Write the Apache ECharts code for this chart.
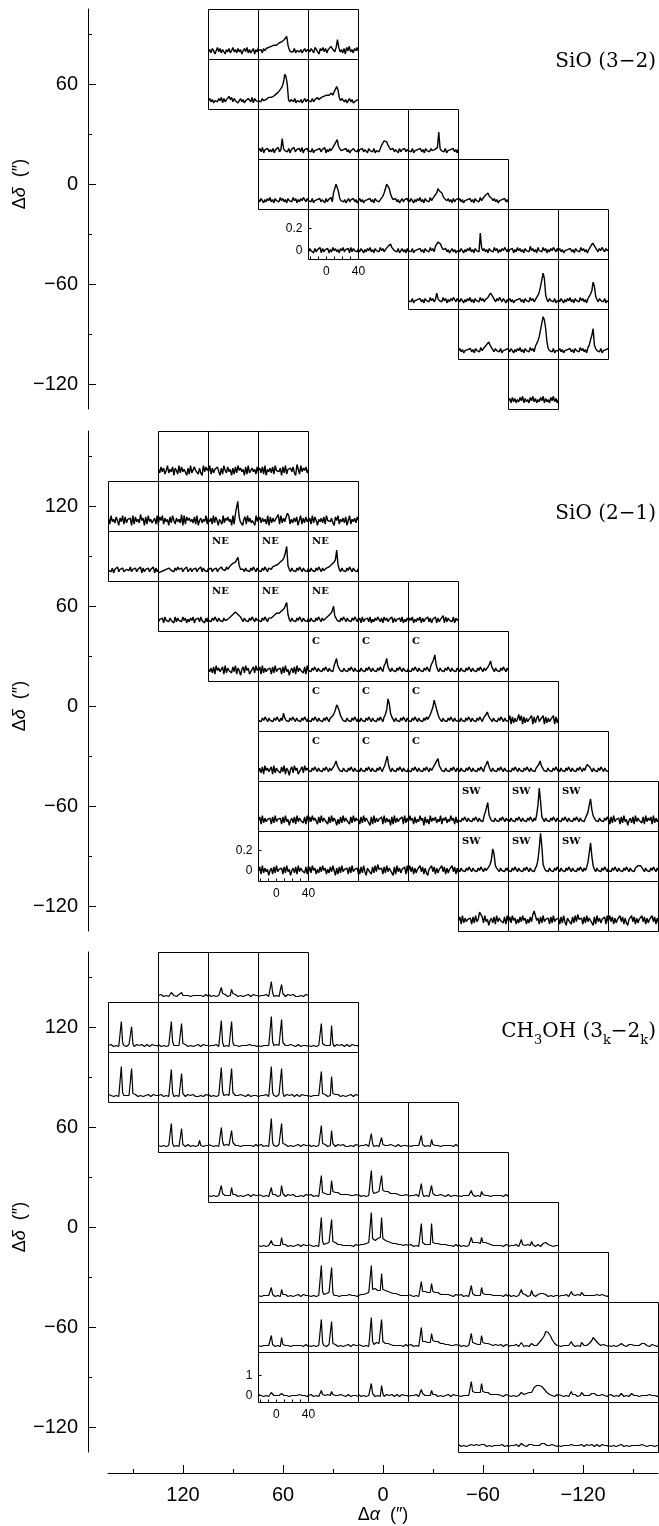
<!DOCTYPE html>
<html>
<head>
<meta charset="utf-8">
<script src="https://cdn.jsdelivr.net/npm/echarts@6/dist/echarts.min.js"></script>
<style>
html, body { margin: 0; padding: 0; background: #fff; }
#chart { width: 659px; height: 1526px; }
</style>
</head>
<body>
<div id="chart"></div>
<script>
// offsets (arcsec) and tick labels
var raMajor = [120, 60, 0, -60, -120];
var raMinor = [150, 90, 30, -30, -90, -150];
var decMajor1 = [60, 0, -60, -120];
var decMinor1 = [90, 30, -30, -90];
var decMajor2 = [120, 60, 0, -60, -120];
var decMinor2 = [150, 90, 30, -30, -90];

// velocity window of every small spectrum (km/s)
var VEL = [-22, 40];

// spectra: one char per channel, base36 level (see panel zero/unit)
// SiO (3-2)
var sio32Dec = [90, 60, 30, 0, -30, -60, -90, -120];
var sio32Ra = [[90, 60, 30], [90, 60, 30], [60, 30, 0, -30], [60, 30, 0, -30, -60],
  [30, 0, -30, -60, -90, -120], [-30, -60, -90, -120], [-60, -90, -120], [-90]];
var sio32Spec = [
  ['3526414736254153624735263514637252461537', '435264657687989abacdefh95343624535246354', '5364275316473625486537e7352617483526473'],
  ['4635245364726354857364524635243653726453', '45364556767889abcdfhlsqj53543624535246354', '45363557567687989ab9cdhe7465352463523435'],
  ['463725463536254735f64536254735463725463', '453624354635472536466ace86435463524364536', '3546354264536245369bdec97546354263546354', '45362435463526453643557l645362435463526'],
  ['5364253647352645374635264537462536475364', '45362435463542635473bfjgc6453524635463524', '46352435463526453568bcjhfa75463524635463', '5364253647352645374689bfdcb8654635263546', '46352435463526453746799b8764635243546352'],
  ['3645263547263546253746352647354627364536', '5364253647352645374635689a76453624635263', '45362435463526453746389cda75463524635243', '53642536473526453k7463526453746253647536', '3546253746352645384635274537462536475363', '46352435463526453746352579b985364753645'],
  ['4536243546352645374635b64537462536475364', '5364253647352645374635679b97536475364253', '463524354635264537463579chnto95364536243', '5364253647352645374635268adlh85364536243'],
  ['4635243546352645374679ac975364536243546', '53642536473526453746389dhntzwoc645362434', '4635243546352645374635279eio964536243546'],
  ['4627362537482635274836253748263527483625']
];

// SiO (2-1)
var sio21Dec = [150, 120, 90, 60, 30, 0, -30, -60, -90, -120];
var sio21Ra = [[120, 90, 60], [150, 120, 90, 60, 30], [150, 120, 90, 60, 30], [120, 90, 60, 30, 0, -30],
  [90, 60, 30, 0, -30, -60], [60, 30, 0, -30, -60, -90], [60, 30, 0, -30, -60, -90, -120],
  [60, 30, 0, -30, -60, -90, -120, -150], [60, 30, 0, -30, -60, -90, -120, -150], [-60, -90, -120, -150]];
var sio21Spec = [
  ['5273614825370641827354061823745162083746', '3816254730618427350617284635071824635172', '4627180536271845360728154637209518364725'],
  ['6183527406381725460817352946071835246180', '2748163507284163529081746352718046253817', '53618274053182647350819fk83405718362450837', '4726351807263549182637a8152637048162735', '3618274053627184536207481536270481536274'],
  ['4536254735463256473546354726354635472635', '2132435465453647546354734635463547364536', '5463546354756475687a9bdf8545364536475364', '4536475366576879abcdfjo85364536475364536', '5364536475364567789abdl95364536475364536'],
  ['3546274536452736453746253647254637452637', '45364753645364556789abc98753645364753645', '45364753656789a9abcdefj95364536475364536', '536453647536456789acg86453647536453647536', '4627354637253647536274635472635463725364', '3647253647263547362547263548273645372645'],
  ['5362718463571826452738164057284613572846', '4718263546172835461728350462718364527183', '45364753645364753645389e864536453647536453', '536453647536453647538ae75364536475364536', '4536475364536475389dh953645364753645364', '5364536475364536475364579c75364536475364'],
  ['4536475364536475364a6453647536453647536', '45364753645364753678adhfc864536453647536', '5364536475364536475379dmia75364536475364', '453647536453647569cflhd96536453647536453', '53645364753645364753679b86536453647536453', '4817263594817263548172683548172635481726'],
  ['3627184635718264527381640572846135728464', '4536475364536475364579c864536453647536453', '5364536475364536475368cg95364536475364536', '4536475364536475364589ce8645364536475364', '5364536475364536475379c8536453647536453', '453647536453647536453679c86453645364753', '536453647536453647536479a7536453647536453'],
  ['4718263546172835461728350462718364527183', '2738465172836451728364051728364517283645', '5172836450718263547182635071826354718263', '3846172538460725183647253816472538461725', '4536475364536475364538bfj96453645364753645', '53645364753645364753649hvk75364536475364', '45364753645364753645367bhmd8645364536475', '6172835461728350462718364527183647182635'],
  ['4718263504617283546172835046271836452718', '3728461527384615273840617283546172835461', '6172830645172839546172836450718362547182', '4837162548371620548371625483716254837162', '5364536475364536475364579dmi86536453647', '45364753645364753645368dnzo9645364536475', '53645364753645364753647bjrg8536453647536', '4536475364536475364536789875364536475364'],
  ['4718263546172835b9728350462718364527183', '37284615273846152739c8461728354617283546', '6172830645172839546172836450718362547182', '4837162548371620548371625483716254837162']
];
var sio21Tags = [[90, 90, 'NE'], [60, 90, 'NE'], [30, 90, 'NE'], [90, 60, 'NE'], [60, 60, 'NE'], [30, 60, 'NE'],
  [30, 30, 'C'], [0, 30, 'C'], [-30, 30, 'C'], [30, 0, 'C'], [0, 0, 'C'], [-30, 0, 'C'],
  [30, -30, 'C'], [0, -30, 'C'], [-30, -30, 'C'], [-60, -60, 'SW'], [-90, -60, 'SW'], [-120, -60, 'SW'],
  [-60, -90, 'SW'], [-90, -90, 'SW'], [-120, -90, 'SW']];

// CH3OH (3k-2k)
var ch3ohDec = sio21Dec;
var ch3ohRa = sio21Ra;
var ch3ohSpec = [
  ['2132122312532212325212322132123212312321', '3212231221a42321228423212231221321231222', '1223213212g5122312d421231223212132212312'],
  ['2132122313q5221232l412322132123212312321', '3212231221q6232122o423212231221321231222', '1223213212r5122312q521231223212132212312', '2312212321v6213221s532122312212321321221', '2213231122o4221232m412322132123212312321'],
  ['3122132212v5232122t423212231221321231222', '2132122312s5122312o421231223212132212312', '3212231221u6213221t532122312212321321221', '1223213212v5221232t512322132123212312321', '2312212321q4232122l423432122312213212312'],
  ['2213231122o4122312j321232122312272312212', '3122132212k6213221h532322132123212312321', '2132122312t5221232o423212231221321231222', '3212231221m4232122h421231223212132212312', '1223213212e4122312a332122312212321321221', '2312212321c32132218312322132123212312321'],
  ['2213231122c4221232a323212231221321231222', '3122132212a3232122c421231223212132212312', '2132122312m5344343h655454343232322122312', '3212231221r7465564m766565454343332322312', '1223213212e4122312c432122312212321321221', '2312212321732132216312322132123212312321'],
  ['221323112273221232a323212231221321231222', '3122132212u6344354s645434332323212212312', '2232334456z9a7898au987766554443333222312', '2132122312o5334343o544343323232212312321', '3212231221a5454554a545443332322212312322', '1223213212831223126321232124454322312212'],
  ['2312212321a32132218323212231221321231222', '2213231122w6344354u521231223212132212312', '2233344556w8898787o877666554443332322212', '3122132212g6566565e655454343332322212312', '2132122312c4221232a433432322123212312321', '3212231221842321227321234454432122312212', '1223213212631223125321232123243222312212'],
  ['2312212321c3213221a312322132123212312321', '2213231122s5221232q423212231221321231222', '3122132212u6345344s644343322322212312321', '2132122312k6666575e766565454433332322312', '3212231221e5344343c544343322232213212312', '122321321253122312432323568acgefeb864322', '231221232163213221532323457a875432231221', '2213231122432212323321212345432212312212'],
  ['3122132212532321224321231223212132212312', '2132122312731223126332122312212321321221', '3212231221e4213221c412322132123212312321', '1223213212842212327323212231221321231222', '2312212321g6456565e655454343332322212312', '22132311225333445457abcdccba875433221231', '3122132212632321225321232345432122312212', '2132122312431223124321231223212132212312'],
  ['3212231221322132213232122312212321321221', '1223213212432212323221232345432122312212', '2312212321322321223212322132123212312321', '2213231122321223122223212231221321231222']
];

var panels = [
  { title: 'SiO (3\u22122)', dec: sio32Dec, ra: sio32Ra, spec: sio32Spec, tags: [], zero: 4, unit: 0.01,
    tRange: [-0.08, 0.375], inset: [30, -30], insetY: [0, 0.2], top: 9, decRange: [-135, 105],
    decMajor: decMajor1, decMinor: decMinor1, titleY: 62, lw: 1.4 },
  { title: 'SiO (2\u22121)', dec: sio21Dec, ra: sio21Ra, spec: sio21Spec, tags: sio21Tags, zero: 4, unit: 0.012,
    tRange: [-0.11, 0.39], inset: [60, -90], insetY: [0, 0.2], top: 431, decRange: [-135, 165],
    decMajor: decMajor2, decMinor: decMinor2, titleY: 514, lw: 1.4 },
  { title: null, dec: ch3ohDec, ra: ch3ohRa, spec: ch3ohSpec, tags: [], zero: 2, unit: 0.05,
    tRange: [-0.35, 2.15], inset: [60, -90], insetY: [0, 1], top: 952, decRange: [-135, 165],
    decMajor: decMajor2, decMinor: decMinor2, titleY: 1032, lw: 1.2 }
];

var SANS = 'Liberation Sans, Arial, Helvetica, sans-serif';
var SERIF = 'DejaVu Serif, Liberation Serif, serif';
var black = { color: '#000', width: 1 };

function fmt(v) { return v < 0 ? '\u2212' + Math.abs(v) : String(v); }

function decode(str, zero, unit) {
  var n = str.length, pts = [];
  for (var i = 0; i < n; i++) {
    pts.push([VEL[0] + i * (VEL[1] - VEL[0]) / (n - 1), (parseInt(str.charAt(i), 36) - zero) * unit]);
  }
  return pts;
}

function mainParts() {
  var grid = [], xAxis = [], yAxis = [];
  panels.forEach(function (p, k) {
    grid.push({ left: 108, width: 550, top: p.top, height: (p.decRange[1] - p.decRange[0]) * 5 / 3, show: false });
    var last = k === panels.length - 1;
    xAxis.push({
      type: 'value', gridIndex: k, min: -165, max: 165, inverse: true, show: last,
      position: 'bottom', offset: 21,
      axisLine: { show: true, onZero: false, lineStyle: black },
      axisTick: { show: true, inside: true, length: 8, customValues: raMajor, lineStyle: black },
      axisLabel: { show: true, customValues: raMajor, formatter: fmt, color: '#000', fontSize: 20, fontFamily: SANS, margin: 12 },
      splitLine: { show: false }
    });
  });
  xAxis.push({
    type: 'value', gridIndex: 2, min: -165, max: 165, inverse: true, position: 'bottom', offset: 21,
    axisLine: { show: false, onZero: false }, axisLabel: { show: false }, splitLine: { show: false },
    axisTick: { show: true, inside: true, length: 4, customValues: raMinor, lineStyle: black }
  });
  panels.forEach(function (p, k) {
    yAxis.push({
      type: 'value', gridIndex: k, min: p.decRange[0], max: p.decRange[1], position: 'left', offset: 20,
      axisLine: { show: true, onZero: false, lineStyle: black },
      axisTick: { show: true, inside: true, length: 8, customValues: p.decMajor, lineStyle: black },
      axisLabel: { show: true, customValues: p.decMajor, formatter: fmt, color: '#000', fontSize: 20, fontFamily: SANS, margin: 10 },
      splitLine: { show: false }
    });
  });
  panels.forEach(function (p, k) {
    yAxis.push({
      type: 'value', gridIndex: k, min: p.decRange[0], max: p.decRange[1], position: 'left', offset: 20,
      axisLine: { show: false, onZero: false }, axisLabel: { show: false }, splitLine: { show: false },
      axisTick: { show: true, inside: true, length: 4, customValues: p.decMinor, lineStyle: black }
    });
  });
  return { grid: grid, xAxis: xAxis, yAxis: yAxis };
}

var chart = echarts.init(document.getElementById('chart'));
var base = mainParts();
chart.setOption({ animation: false, grid: base.grid, xAxis: base.xAxis, yAxis: base.yAxis });

function px(k, ra, dec) {
  return chart.convertToPixel({ xAxisIndex: k, yAxisIndex: k }, [ra, dec]);
}

var grid = base.grid.slice(), xAxis = base.xAxis.slice(), yAxis = base.yAxis.slice();
var series = [], graphic = [];
var xOff = xAxis.length, yOff = yAxis.length, gOff = grid.length, b = 0;

panels.forEach(function (p, k) {
  p.dec.forEach(function (dec, r) {
    p.ra[r].forEach(function (ra, c) {
      var a = px(k, ra + 15, dec + 15), z = px(k, ra - 15, dec - 15);
      var isInset = ra === p.inset[0] && dec === p.inset[1];
      grid.push({
        left: Math.round(a[0]) + 0.5, top: Math.round(a[1]) + 0.5,
        width: Math.round(z[0] - a[0]), height: Math.round(z[1] - a[1]),
        show: true, borderColor: '#000', borderWidth: 1, backgroundColor: 'transparent'
      });
      xAxis.push({
        type: 'value', gridIndex: gOff + b, min: VEL[0], max: VEL[1], show: isInset, position: 'bottom',
        axisLine: { show: false, onZero: false }, splitLine: { show: false },
        axisTick: { show: true, inside: true, length: 3, customValues: [-20, -10, 0, 10, 20, 30, 40], lineStyle: black },
        axisLabel: { show: true, customValues: [0, 40], color: '#000', fontSize: 12, fontFamily: SANS, margin: 6 }
      });
      yAxis.push({
        type: 'value', gridIndex: gOff + b, min: p.tRange[0], max: p.tRange[1], show: isInset, position: 'left',
        axisLine: { show: false, onZero: false }, splitLine: { show: false },
        axisTick: { show: true, inside: true, length: 3, customValues: p.insetY, lineStyle: black },
        axisLabel: { show: true, customValues: p.insetY, color: '#000', fontSize: 12, fontFamily: SANS, margin: 6 }
      });
      series.push({
        type: 'line', xAxisIndex: xOff + b, yAxisIndex: yOff + b, silent: true,
        symbol: 'none', lineStyle: { color: '#000', width: p.lw },
        data: decode(p.spec[r][c], p.zero, p.unit)
      });
      b++;
    });
  });
  p.tags.forEach(function (t) {
    var a = px(k, t[0] + 15, t[1] + 15);
    graphic.push({ type: 'text', left: a[0] + 4, top: a[1] + 5, silent: true,
      style: { text: t[2], fill: '#000', font: 'bold 10px ' + SERIF } });
  });
  var zero = px(k, 0, 0);
  graphic.push({ type: 'text', x: 20, y: zero[1], rotation: Math.PI / 2, silent: true,
    style: { text: '{n|\u0394}{i|\u03b4}{n|  (\u2033)}', align: 'center', verticalAlign: 'middle',
      rich: { n: { fontSize: 18, fontFamily: SANS, fill: '#000' }, i: { fontSize: 18, fontFamily: SANS, fontStyle: 'italic', fill: '#000' } } } });
  if (p.title) {
    graphic.push({ type: 'text', x: 656, y: p.titleY, silent: true,
      style: { text: p.title, align: 'right', verticalAlign: 'middle', fill: '#000', font: '20px ' + SERIF } });
  }
});

// CH3OH title with subscripts
graphic.push({ type: 'text', x: 656, y: panels[2].titleY, silent: true,
  style: { text: '{n|CH}{s|3}{n|OH (3}{s|k}{n|\u22122}{s|k}{n|)}', align: 'right', verticalAlign: 'middle',
    rich: { n: { fontSize: 20, fontFamily: SERIF, fill: '#000', lineHeight: 30, verticalAlign: 'middle' },
            s: { fontSize: 13, fontFamily: SERIF, fill: '#000', lineHeight: 13, verticalAlign: 'bottom' } } } });

// bottom axis name
graphic.push({ type: 'text', x: 383, y: 1515, silent: true,
  style: { text: '{n|\u0394}{i|\u03b1}{n|  (\u2033)}', align: 'center', verticalAlign: 'middle',
    rich: { n: { fontSize: 18, fontFamily: SANS, fill: '#000' }, i: { fontSize: 18, fontFamily: SANS, fontStyle: 'italic', fill: '#000' } } } });

chart.setOption({ animation: false, grid: grid, xAxis: xAxis, yAxis: yAxis, series: series, graphic: graphic }, true);
</script>
</body>
</html>
